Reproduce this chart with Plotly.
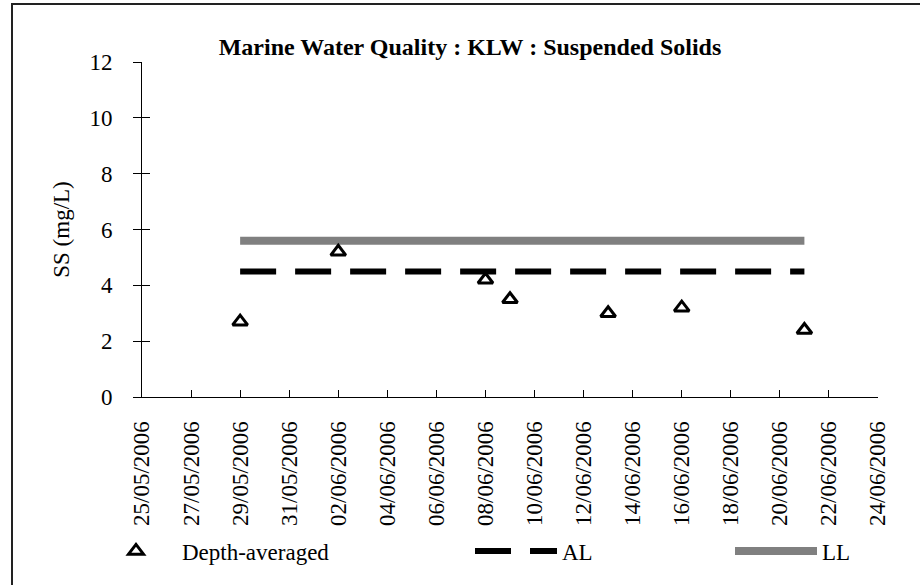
import plotly.graph_objects as go

# muestras (fecha, SS mg/L)
fechas = ["2006-05-29", "2006-06-02", "2006-06-08", "2006-06-09",
          "2006-06-13", "2006-06-16", "2006-06-21"]
ss_prom = [2.7, 5.2, 4.2, 3.5, 3.0, 3.2, 2.4]
al_vals = [4.5, 4.5, 4.5, 4.5, 4.5, 4.5, 4.5]
ll_vals = [5.6, 5.6, 5.6, 5.6, 5.6, 5.6, 5.6]

x_rango = ["2006-05-25", "2006-06-24"]
y_rango = [0, 12]

FUENTE = "Liberation Serif, Times New Roman, serif"
W, H = 920, 585
L, R, T, B = 142, 42, 62, 188
pw, ph = W - L - R, H - T - B

fig = go.Figure()

fig.add_trace(go.Scatter(
    x=fechas, y=ll_vals, mode="lines", name="LL",
    line=dict(color="#808080", width=8), legend="legend3"
))
fig.add_trace(go.Scatter(
    x=fechas, y=al_vals, mode="lines", name="AL",
    line=dict(color="black", width=6, dash="36px,19px"), legend="legend2"
))
fig.add_trace(go.Scatter(
    x=fechas, y=ss_prom, mode="markers", name="Depth-averaged",
    marker=dict(symbol="triangle-up-open", size=13, color="black",
                line=dict(width=3, color="black")),
    legend="legend"
))

# eje y duplicado solo para las marcas hacia dentro
fig.add_trace(go.Scatter(x=[None], y=[None], yaxis="y2", showlegend=False,
                         hoverinfo="skip"))

def leyenda(x_px, y_px):
    return dict(x=x_px / W, y=1 - y_px / H, xref="container", yref="container",
                xanchor="left", yanchor="middle", orientation="h",
                itemwidth=82, bgcolor="rgba(0,0,0,0)",
                font=dict(family=FUENTE, size=23, color="black"))

fig.update_layout(
    width=W, height=H,
    margin=dict(l=L, r=R, t=T, b=B, autoexpand=False),
    paper_bgcolor="white", plot_bgcolor="white",
    font=dict(family=FUENTE, size=23, color="black"),
    title=dict(text="<b>Marine Water Quality : KLW : Suspended Solids</b>",
               x=470 / W, xref="container", xanchor="center",
               y=1 - 47 / H, yref="container", yanchor="middle",
               font=dict(family=FUENTE, size=24, color="black")),
    xaxis=dict(type="date", range=x_rango, tick0="2006-05-25",
               dtick=2 * 86400000, tickformat="%d/%m/%Y", tickangle=-90,
               ticks="inside", ticklen=7, tickcolor="black",
               showline=True, linecolor="black", linewidth=1,
               showgrid=False, zeroline=False, ticklabelstandoff=14,
               automargin=False,
               tickfont=dict(family=FUENTE, size=23)),
    yaxis=dict(range=y_rango, dtick=2, ticks="outside", ticklen=8,
               tickcolor="black", showline=True, linecolor="black",
               linewidth=1, showgrid=False, zeroline=False,
               ticklabelstandoff=16, automargin=False,
               title=dict(text="SS (mg/L)", standoff=13,
                          font=dict(family=FUENTE, size=23)),
               tickfont=dict(family=FUENTE, size=23)),
    yaxis2=dict(range=y_rango, dtick=2, overlaying="y", side="left",
                ticks="inside", ticklen=8, tickcolor="black",
                showticklabels=False, showgrid=False, zeroline=False,
                showline=False, automargin=False),
    legend=leyenda(90, 551),
    legend2=leyenda(470, 551),
    legend3=leyenda(730, 551),
    shapes=[dict(type="rect", xref="paper", yref="paper",
                 x0=(12 - L) / pw, x1=(930 - L) / pw,
                 y0=(H - B - 595) / ph, y1=(H - B - 4) / ph,
                 line=dict(color="#222222", width=2), layer="below")],
)

fig.write_html("out.html", config={"displayModeBar": False},
               post_script="document.body.style.margin='0';"
                           "document.body.style.overflow='hidden';")
